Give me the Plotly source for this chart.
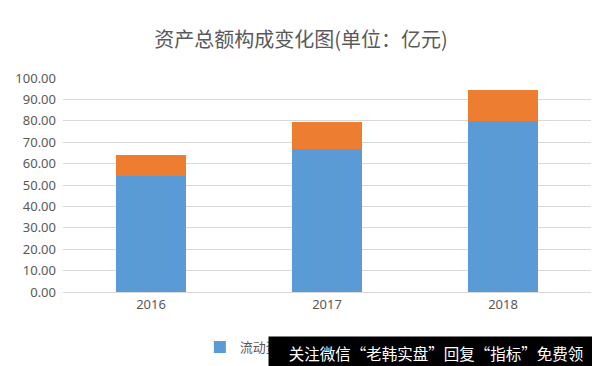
import plotly.graph_objects as go

years = ["2016", "2017", "2018"]
current_assets = [54.3, 66.8, 80.0]
non_current_assets = [9.7, 12.5, 14.4]
series_names = ["流动资产", "非流动资产"]
title_text = "资产总额构成变化图(单位：亿元)"
watermark_text = "关注微信“老韩实盘”回复“指标”免费领"

font_cn = "Noto Sans CJK SC"

fig = go.Figure()
fig.add_trace(go.Bar(x=years, y=current_assets, name=series_names[0],
                     marker=dict(color="#5B9BD5", line=dict(width=0))))
fig.add_trace(go.Bar(x=years, y=non_current_assets, name=series_names[1],
                     marker=dict(color="#ED7D31", line=dict(width=0))))

# page body has an 8px margin; compensate so screen coords match the reference
OFF = 8
W, H = 600 - OFF, 366 - OFF
# plot area in screen pixels
SX0, SX1, SY0, SY1 = 63, 591.5, 78, 292
L = SX0 - OFF
T = SY0 - OFF
R = W - (SX1 - OFF)
B = H - (SY1 - OFF)
ph = SY1 - SY0
pw = SX1 - SX0

def px_x(px):
    return (px - SX0) / pw

def px_y(py):
    return (SY1 - py) / ph

fig.update_layout(
    width=W, height=H,
    barmode="stack",
    bargap=0.6,
    plot_bgcolor="white",
    paper_bgcolor="white",
    margin=dict(l=L, r=R, t=T, b=B, autoexpand=False),
    title=dict(text=title_text, x=(301 - OFF) / W, xanchor="center", xref="container",
               y=1 - (40 - OFF) / H, yanchor="middle", yref="container",
               font=dict(family=font_cn, size=20, color="#595959")),
    font=dict(family=font_cn, color="#595959"),
    xaxis=dict(showgrid=False, showline=True, linecolor="#D9D9D9", linewidth=1,
               ticks="", automargin=False,
               tickfont=dict(size=13, color="#595959", family="Noto Sans")),
    yaxis=dict(range=[0, 100], dtick=10, tickformat=".2f", showgrid=True,
               gridcolor="#D9D9D9", gridwidth=1, zeroline=False, showline=False,
               ticks="", automargin=False, ticklabelstandoff=6,
               tickfont=dict(size=13, color="#595959", family="Noto Sans")),
    showlegend=True,
    legend=dict(orientation="h", x=px_x(200), xanchor="left",
                y=px_y(347), yanchor="middle", traceorder="normal",
                itemwidth=30,
                font=dict(size=13, color="#595959", family=font_cn),
                bgcolor="rgba(0,0,0,0)"),
)

# watermark banner (black box with white text) covering part of the legend
fig.add_annotation(text=watermark_text, xref="paper", yref="paper",
                   x=px_x(268), y=px_y(336), xanchor="left", yanchor="top",
                   width=334, height=32, borderpad=0, bgcolor="black",
                   align="center", valign="middle",
                   showarrow=False,
                   font=dict(family=font_cn, size=15.5, color="white"))

fig.write_html("out.html")
